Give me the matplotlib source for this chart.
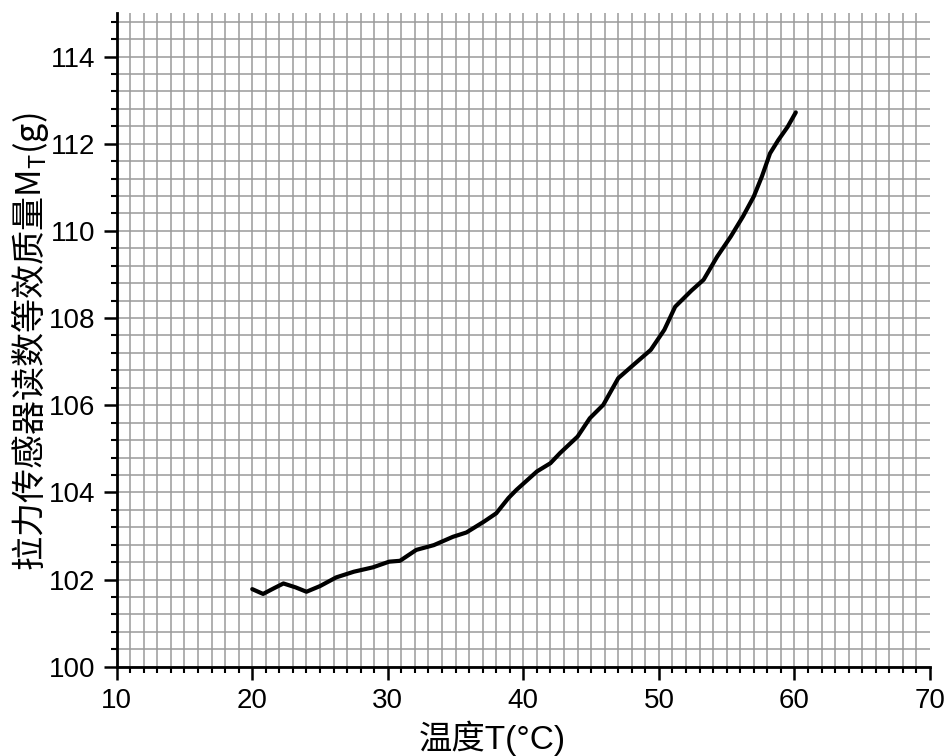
import matplotlib
matplotlib.use('Agg')
import matplotlib.pyplot as plt
from matplotlib.ticker import MultipleLocator

plt.rcParams['font.family'] = ['Liberation Sans', 'Noto Sans CJK SC', 'DejaVu Sans']
# the y label mixes CJK with a math subscript, so mathtext needs a CJK-capable font
plt.rcParams['mathtext.fontset'] = 'custom'
plt.rcParams['mathtext.rm'] = 'Noto Sans CJK SC'
plt.rcParams['mathtext.it'] = 'Noto Sans CJK SC'
plt.rcParams['mathtext.default'] = 'rm'

# temperature (°C) and equivalent mass read from the force sensor (g)
temperature = [20.0, 20.8, 21.6, 22.3, 23.2, 24.0, 25.0, 26.2, 27.5, 28.9,
               30.1, 30.9, 32.1, 33.4, 34.8, 35.8, 37.1, 38.0, 38.9, 39.5,
               41.0, 42.0, 42.7, 44.0, 44.9, 45.9, 47.0, 48.1, 49.4, 50.4,
               51.2, 52.4, 53.3, 54.3, 55.3, 56.2, 57.0, 57.6, 58.2, 58.8,
               59.5, 60.1]
mass = [101.78, 101.67, 101.80, 101.91, 101.82, 101.72, 101.85, 102.05, 102.18, 102.28,
        102.41, 102.43, 102.68, 102.79, 102.98, 103.08, 103.33, 103.52, 103.87, 104.06,
        104.48, 104.67, 104.90, 105.28, 105.70, 106.01, 106.62, 106.92, 107.27, 107.73,
        108.26, 108.63, 108.88, 109.41, 109.87, 110.33, 110.79, 111.25, 111.78, 112.08,
        112.39, 112.72]

x_ticks = [10, 20, 30, 40, 50, 60, 70]
y_ticks = [100, 102, 104, 106, 108, 110, 112, 114]

fig = plt.figure(figsize=(9.44, 7.56), dpi=100)
ax = fig.add_axes([116.7 / 944, 1 - 666.7 / 756, 813.3 / 944, 653.7 / 756])

ax.plot(temperature, mass, color='black', linewidth=3.0,
        solid_joinstyle='round', solid_capstyle='round', zorder=3)

ax.set_xlim(10, 70)
ax.set_ylim(100, 115)
ax.set_xticks(x_ticks)
ax.set_yticks(y_ticks)
ax.xaxis.set_minor_locator(MultipleLocator(1))
ax.yaxis.set_minor_locator(MultipleLocator(0.4))

# square grid on every minor division
ax.grid(True, which='both', color='#9a9a9a', linewidth=1.1, zorder=0)
ax.set_axisbelow(True)
ax.xaxis.get_major_ticks()[-1].gridline.set_visible(False)

for side in ['top', 'right']:
    ax.spines[side].set_visible(False)
for side in ['left', 'bottom']:
    ax.spines[side].set_linewidth(2.0)

ax.tick_params(which='major', direction='out', length=9.5, width=1.8,
               labelsize=20, pad=6)
ax.tick_params(which='minor', direction='out', length=4.5, width=1.5)

ax.set_xlabel('温度T(°C)', fontsize=24)
ax.set_ylabel('拉力传感器读数等效质量$\\mathrm{M_T}$(g)', fontsize=24.5,
              fontfamily='Noto Sans CJK SC')
ax.xaxis.label.set_va('center')
ax.yaxis.label.set_va('center')
ax.xaxis.set_label_coords(0.4615, -0.110)
ax.yaxis.set_label_coords(-0.107, 0.497)

fig.savefig('out.png', dpi=100)
